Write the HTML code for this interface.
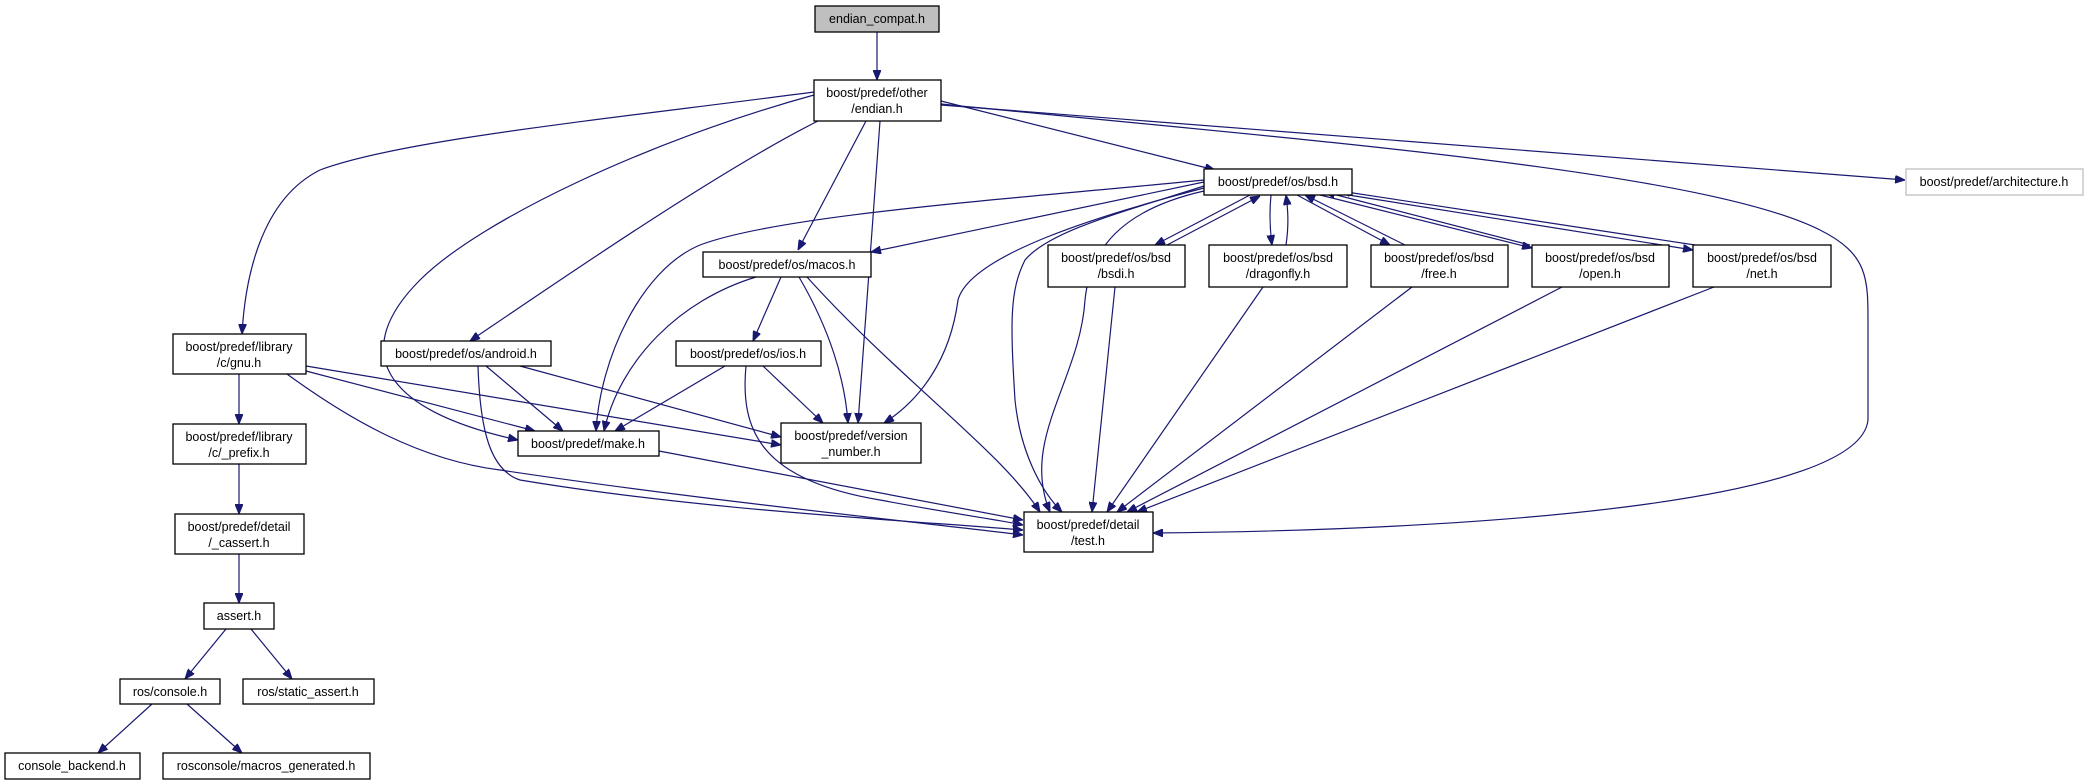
<!DOCTYPE html>
<html><head><meta charset="utf-8"><style>
html,body{margin:0;padding:0;background:#fff;}
svg{display:block;}
text{font-family:"Liberation Sans",Helvetica,Arial,sans-serif;font-size:12.5px;fill:#000;text-anchor:middle;}
.n{fill:#fff;stroke:#000;stroke-width:1.3;}
.e{fill:none;stroke:#191970;stroke-width:1.2;}
</style></head><body>
<svg width="2089" height="783" viewBox="0 0 2089 783" xmlns="http://www.w3.org/2000/svg">
<defs><marker id="a" markerWidth="10" markerHeight="8" refX="10" refY="4" orient="auto" markerUnits="userSpaceOnUse"><path d="M0,0 L10,4 L0,8 z" fill="#191970" stroke="#191970"/></marker></defs>

<g class="edges" marker-end="url(#a)">
<path class="e" d="M877,32 L877,80"/>
<!-- endian.h edges -->
<path class="e" d="M814,92 C600,120 400,140 320,170 C260,200 245,280 242,334"/>
<path class="e" d="M814,95 C650,140 480,220 420,280 C350,350 380,410 518,440"/>
<path class="e" d="M818,121 C720,170 560,280 470,341"/>
<path class="e" d="M866,121 L798,250"/>
<path class="e" d="M880,121 L858,423"/>
<path class="e" d="M941,101 L1215,170"/>
<path class="e" d="M941,104 C1300,140 1700,170 1820,230 C1870,255 1868,280 1868,330 L1868,420 C1860,500 1500,530 1153,533"/>
<path class="e" d="M941,105 L1905,180"/>
<!-- bsd.h edges -->
<path class="e" d="M1204,182 L871,252"/>
<path class="e" d="M1204,180 C1000,200 780,215 700,245 C640,270 600,360 596,431"/>
<path class="e" d="M1204,188 C1100,215 970,255 958,300 C950,360 920,400 884,423"/>
<path class="e" d="M1204,191 C1120,210 1090,250 1085,300 C1080,380 1020,440 1050,512"/>
<path class="e" d="M1204,186 C1130,210 1050,230 1025,260 C1010,290 1010,320 1015,400 C1020,450 1040,490 1062,512"/>
<!-- bsd <-> children -->
<path class="e" d="M1250,195 L1155,245"/>
<path class="e" d="M1167,245 L1260,196"/>
<path class="e" d="M1271,195 C1269,215 1270,230 1272,245"/>
<path class="e" d="M1286,245 C1289,225 1288,210 1286,195"/>
<path class="e" d="M1297,195 L1390,245"/>
<path class="e" d="M1405,245 L1305,195"/>
<path class="e" d="M1320,195 L1532,248"/>
<path class="e" d="M1530,245 L1325,192"/>
<path class="e" d="M1336,193 L1693,250"/>
<path class="e" d="M1695,245 L1340,191"/>
<!-- children to test -->
<path class="e" d="M1115,287 L1092,512"/>
<path class="e" d="M1263,287 L1107,512"/>
<path class="e" d="M1412,287 L1117,512"/>
<path class="e" d="M1562,287 L1127,512"/>
<path class="e" d="M1714,287 L1137,512"/>
<!-- macos -->
<path class="e" d="M756,277 C680,300 620,360 604,431"/>
<path class="e" d="M781,277 L753,341"/>
<path class="e" d="M799,277 C830,330 845,380 848,423"/>
<path class="e" d="M807,277 C900,380 1000,450 1040,512"/>
<!-- ios -->
<path class="e" d="M725,366 L615,431"/>
<path class="e" d="M763,366 L823,423"/>
<path class="e" d="M746,366 C740,430 760,480 880,500 C960,515 1000,520 1023,525"/>
<!-- android -->
<path class="e" d="M486,366 L563,431"/>
<path class="e" d="M520,366 L781,437"/>
<path class="e" d="M478,366 C480,430 490,470 520,480 C700,510 900,520 1023,530"/>
<!-- gnu -->
<path class="e" d="M306,371 L535,431"/>
<path class="e" d="M306,366 L781,445"/>
<path class="e" d="M287,374 C350,420 420,460 500,470 C700,500 900,520 1023,535"/>
<path class="e" d="M239,374 L239,424"/>
<!-- make -->
<path class="e" d="M659,451 L1023,520"/>
<!-- left chain -->
<path class="e" d="M239,464 L239,514"/>
<path class="e" d="M239,554 L239,603"/>
<path class="e" d="M226,629 L185,679"/>
<path class="e" d="M251,629 L292,679"/>
<path class="e" d="M152,704 L98,753"/>
<path class="e" d="M187,704 L242,753"/>
</g>

<g>
<rect x="815" y="6" width="124" height="26" fill="#bfbfbf" stroke="#000" stroke-width="1.3"/><text x="877" y="23">endian_compat.h</text>
<rect class="n" x="814" y="80" width="127" height="41"/><text x="877" y="97">boost/predef/other</text><text x="877" y="113">/endian.h</text>
<rect class="n" x="1204" y="169" width="148" height="26"/><text x="1278" y="186">boost/predef/os/bsd.h</text>
<rect x="1906" y="169" width="177" height="26" fill="#fff" stroke="#bfbfbf" stroke-width="1.3"/><text x="1994" y="186">boost/predef/architecture.h</text>
<rect class="n" x="703" y="252" width="168" height="25"/><text x="787" y="269">boost/predef/os/macos.h</text>
<rect class="n" x="1048" y="245" width="137" height="42"/><text x="1116" y="262">boost/predef/os/bsd</text><text x="1116" y="278">/bsdi.h</text>
<rect class="n" x="1209" y="245" width="138" height="42"/><text x="1278" y="262">boost/predef/os/bsd</text><text x="1278" y="278">/dragonfly.h</text>
<rect class="n" x="1371" y="245" width="137" height="42"/><text x="1439" y="262">boost/predef/os/bsd</text><text x="1439" y="278">/free.h</text>
<rect class="n" x="1532" y="245" width="137" height="42"/><text x="1600" y="262">boost/predef/os/bsd</text><text x="1600" y="278">/open.h</text>
<rect class="n" x="1693" y="245" width="138" height="42"/><text x="1762" y="262">boost/predef/os/bsd</text><text x="1762" y="278">/net.h</text>
<rect class="n" x="173" y="334" width="133" height="40"/><text x="239" y="351">boost/predef/library</text><text x="239" y="367">/c/gnu.h</text>
<rect class="n" x="381" y="341" width="170" height="25"/><text x="466" y="358">boost/predef/os/android.h</text>
<rect class="n" x="676" y="341" width="145" height="25"/><text x="748" y="358">boost/predef/os/ios.h</text>
<rect class="n" x="518" y="431" width="141" height="25"/><text x="588" y="448">boost/predef/make.h</text>
<rect class="n" x="781" y="423" width="140" height="40"/><text x="851" y="440">boost/predef/version</text><text x="851" y="456">_number.h</text>
<rect class="n" x="173" y="424" width="133" height="40"/><text x="239" y="441">boost/predef/library</text><text x="239" y="457">/c/_prefix.h</text>
<rect class="n" x="175" y="514" width="129" height="40"/><text x="239" y="531">boost/predef/detail</text><text x="239" y="547">/_cassert.h</text>
<rect class="n" x="1024" y="512" width="129" height="40"/><text x="1088" y="529">boost/predef/detail</text><text x="1088" y="545">/test.h</text>
<rect class="n" x="204" y="603" width="70" height="26"/><text x="239" y="620">assert.h</text>
<rect class="n" x="120" y="679" width="100" height="25"/><text x="170" y="696">ros/console.h</text>
<rect class="n" x="243" y="679" width="131" height="25"/><text x="308" y="696">ros/static_assert.h</text>
<rect class="n" x="5" y="753" width="135" height="26"/><text x="72" y="770">console_backend.h</text>
<rect class="n" x="163" y="753" width="207" height="26"/><text x="266" y="770">rosconsole/macros_generated.h</text>
</g>
</svg>
</body></html>
